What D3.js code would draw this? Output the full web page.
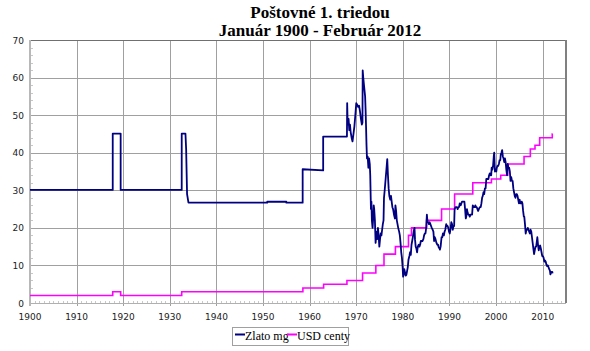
<!DOCTYPE html>
<html><head><meta charset="utf-8">
<script src="https://cdn.jsdelivr.net/npm/d3@7"></script>
<style>body{margin:0;background:#fff;}svg{display:block;}</style>
</head><body><svg id="c" width="590" height="351"></svg>
<script>
const titleLines = ["Poštovné 1. triedou", "Január 1900 - Február 2012"];
const seriesNames = ["Zlato mg", "USD centy"];
const xTicks = [1900,1910,1920,1930,1940,1950,1960,1970,1980,1990,2000,2010];
const yTicks = [0,10,20,30,40,50,60,70];

// USD postage (cents), step changes: [year, value]
const usdYears = [1900,1917.75,1919.45,1932.55,1958.55,1963.0,1968.0,1971.35,1974.2,1975.95,1978.4,1981.2,1981.85,1985.1,1988.3,1991.1,1995.0,1999.0,2001.0,2002.5,2006.0,2007.35,2008.35,2009.35,2012.05];
const usdValues = [2,3,2,3,4,5,6,8,10,13,15,18,20,22,25,29,32,33,34,37,39,41,42,44,45];
const usdEnd = 2012.15;

// Gold (mg) purchasable with the postage
const goldYears = [1900,1917.75,1917.75,1919.45,1919.45,1932.55,1932.55,1933.35,1933.5,1933.7,1934.0,1950.9,1950.9,1955.0,1955.0,1958.5,1958.5,1962.9,1962.9,1968.0,
1968.05,1968.15,1968.25,1968.35,1968.5,1968.65,1968.8,1969.0,1969.2,1969.4,1969.6,1969.8,1970.0,1970.2,1970.4,1970.6,1970.8,1971.0,1971.2,1971.33,
1971.38,1971.5,1971.7,1971.9,1972.0,1972.1,1972.2,1972.3,1972.45,1972.6,1972.75,1972.9,1973.0,1973.15,1973.25,1973.35,1973.5,1973.6,1973.75,1973.85,
1974.0,1974.15,1974.25,1974.4,1974.5,1974.65,1974.8,1974.95,1975.1,1975.25,1975.4,1975.55,1975.7,1975.85,1975.95,1976.1,1976.3,1976.5,1976.65,1976.8,
1976.95,1977.1,1977.3,1977.45,1977.6,1977.75,1977.9,1978.1,1978.3,1978.4,1978.55,1978.7,1978.85,1979.0,1979.2,1979.35,1979.5,1979.65,1979.8,1979.95,
1980.05,1980.15,1980.3,1980.45,1980.6,1980.75,1980.9,1981.05,1981.2,1981.4,1981.55,1981.7,1981.85,1982.0,1982.2,1982.4,1982.5,1982.6,1982.75,1982.9,
1983.05,1983.2,1983.4,1983.55,1983.7,1983.85,1984.0,1984.2,1984.4,1984.55,1984.7,1984.85,1985.0,1985.15,1985.3,1985.45,1985.6,1985.75,1985.9,1986.05,
1986.2,1986.4,1986.55,1986.7,1986.85,1987.0,1987.2,1987.4,1987.55,1987.7,1987.85,1987.95,1988.1,1988.3,1988.45,1988.6,1988.8,1988.95,1989.1,1989.3,
1989.45,1989.6,1989.75,1989.9,1990.05,1990.2,1990.4,1990.55,1990.7,1990.85,1991.0,1991.1,1991.3,1991.45,1991.6,1991.75,1991.9,1992.05,1992.2,1992.4,
1992.55,1992.7,1992.9,1993.05,1993.2,1993.35,1993.5,1993.6,1993.75,1993.9,1994.05,1994.2,1994.35,1994.5,1994.7,1994.85,1995.0,1995.2,1995.4,1995.55,
1995.7,1995.85,1996.0,1996.15,1996.3,1996.5,1996.7,1996.85,1997.0,1997.15,1997.3,1997.45,1997.6,1997.75,1997.9,1998.05,1998.2,1998.35,1998.5,1998.65,
1998.8,1998.95,1999.05,1999.2,1999.35,1999.5,1999.6,1999.75,1999.9,2000.05,2000.15,2000.3,2000.45,2000.6,2000.75,2000.9,2001.0,2001.15,2001.3,2001.45,
2001.6,2001.75,2001.9,2002.05,2002.2,2002.35,2002.5,2002.65,2002.8,2002.95,2003.1,2003.25,2003.4,2003.55,2003.7,2003.85,2004.0,2004.15,2004.3,2004.45,
2004.6,2004.75,2004.9,2005.05,2005.2,2005.35,2005.5,2005.65,2005.8,2005.95,2006.05,2006.2,2006.35,2006.5,2006.65,2006.8,2006.95,2007.1,2007.25,2007.4,
2007.55,2007.7,2007.85,2008.0,2008.15,2008.3,2008.45,2008.6,2008.75,2008.85,2009.0,2009.15,2009.3,2009.45,2009.6,2009.75,2009.9,2010.05,2010.2,2010.35,
2010.5,2010.65,2010.8,2010.95,2011.1,2011.25,2011.4,2011.55,2011.65,2011.8,2011.95,2012.05,2012.12];
const goldValues = [30.1,30.1,45.1,45.1,30.1,30.1,45.1,45.1,41,29,26.7,26.7,26.95,26.95,26.7,26.7,35.6,35.3,44.3,44.3,
53.2,48,47.5,49,46,47.5,45.5,44,43,45,47,50,53.2,52.8,52.2,52.5,51,49,47.5,48,
61.9,60,57.5,55,51.5,47,42,38.5,39,36,38.5,37,34,25,27,22,20,22,26,25,
22,16,17.5,19,17,20,18,15,17,18.5,18,19.5,21,22,28,30,33,36,38.3,34,
30.5,28.5,27.5,28.5,27,25.5,25,23.5,22.5,26,24.5,22,21,20,19,18,16,13.5,12,9.5,
7,7.5,9,8.2,7.3,7.5,8.5,9.5,11.5,12.5,13.5,12.8,15.5,16.5,18,19.5,20,17,15,14.5,
13.5,15,15.5,15,15.5,16.5,16.5,16.5,17,18,18.5,18.5,20,23.5,21.5,21.5,21,21.5,21,20.5,
20,19.5,19,16.5,17.5,17,16,15.5,15.5,14.8,14.5,14.2,15,17.5,17.5,18.5,18,19,19.5,21,
20.5,20.5,20,19,18.5,19.5,21.5,21,19.5,20.5,20.5,25,25.5,25.5,25.5,25,25.5,25.5,26.5,26,
26.5,27,27,27,27,25,22.5,23,25,24,23.5,23.5,23,23.5,23.5,23.5,26,25.5,25.5,26,
25.5,25.5,25,24.5,25,25.5,25.5,26.5,28,28.5,29.5,29,30.5,30.5,33,33,33,33,34,34.5,
34,34,36,35.5,36.5,39,40,35,35.5,35,36,36.5,36.5,37,38,38,39.5,40,40.7,39,
38.5,37.5,38.5,37.5,35.5,34,37,36,36,35,32.5,33.5,32.5,32.5,30.5,29.5,28.5,28,29,29,
28.5,27.5,26.5,27.5,26.5,26.5,27,26.5,24.5,23,23,21,18.5,19.5,19.5,20,19.5,19,18.5,19.5,
19,17.5,16,14.5,13,14,15,15,16.5,17.5,15.5,14,15,15.3,14.5,13.5,12.5,12.5,12,11,
11.3,11,10.2,9.8,10,9.5,9,8.6,7.6,8.2,8.3,8.3,7.9];

const colors = ["#000080", "#ff00ff"];

const W = 590, H = 351;
const m = {l:30, r:24, t:40, b:48};
const svg = d3.select("#c");
const x = d3.scaleLinear().domain([1900, 2015]).range([m.l, W - m.r]);
const y = d3.scaleLinear().domain([0, 70]).range([H - m.b, m.t]);

// title
svg.append("g").selectAll("text").data(titleLines).join("text")
  .attr("x", 320).attr("y", (d,i) => 18 + i*18)
  .attr("text-anchor", "middle")
  .style("font-family", "'Liberation Serif', 'Times New Roman', serif")
  .style("font-size", "17px").style("font-weight", "bold")
  .text(d => d);

// grid
const g = svg.append("g");
g.selectAll("line.vg").data(xTicks.slice(1)).join("line").attr("class","vg")
  .attr("x1", d => Math.round(x(d))+0.5).attr("x2", d => Math.round(x(d))+0.5)
  .attr("y1", y(70)).attr("y2", y(0)+3).attr("stroke", "#a0a0a0");
g.selectAll("line.hg").data(yTicks.slice(1,-1)).join("line").attr("class","hg")
  .attr("y1", d => Math.round(y(d))+0.5).attr("y2", d => Math.round(y(d))+0.5)
  .attr("x1", x(1900)).attr("x2", x(2015)).attr("stroke", "#a0a0a0");

// minor ticks
const minorX = d3.range(1901, 2015, 1).filter(v => v % 10 !== 0);
g.selectAll("line.mx").data(minorX).join("line").attr("class","mx")
  .attr("x1", d => Math.round(x(d))+0.5).attr("x2", d => Math.round(x(d))+0.5)
  .attr("y1", y(0)-2).attr("y2", y(0)).attr("stroke", "#c8c8c8");
const minorY = d3.range(2, 70, 2).filter(v => v % 10 !== 0);
g.selectAll("line.my").data(minorY).join("line").attr("class","my")
  .attr("y1", d => Math.round(y(d))+0.5).attr("y2", d => Math.round(y(d))+0.5)
  .attr("x1", x(1900)).attr("x2", x(1900)+3).attr("stroke", "#c8c8c8");

// frame
g.append("line").attr("x1", x(1900)).attr("x2", x(2015)).attr("y1", Math.round(y(70))+0.5).attr("y2", Math.round(y(70))+0.5).attr("stroke", "#707070");
g.append("line").attr("x1", Math.round(x(2015))).attr("x2", Math.round(x(2015))).attr("y1", y(70)).attr("y2", y(0)).attr("stroke", "#808080").attr("stroke-width", 2);
g.append("line").attr("x1", x(1900)).attr("x2", x(2015)).attr("y1", Math.round(y(0))+0.5).attr("y2", Math.round(y(0))+0.5).attr("stroke", "#b0b0b0");
g.append("line").attr("x1", Math.round(x(1900))).attr("x2", Math.round(x(1900))).attr("y1", y(70)).attr("y2", y(0)+3).attr("stroke", "#b8b8b8").attr("stroke-width", 2);

// axis labels
const lf = "'DejaVu Sans', Verdana, sans-serif";
svg.append("g").selectAll("text").data(xTicks).join("text")
  .attr("x", d => x(d)).attr("y", y(0)+17).attr("text-anchor", "middle")
  .style("font-family", lf).style("font-size", "9px").attr("fill", "#222")
  .text(d => d);
svg.append("g").selectAll("text").data(yTicks).join("text")
  .attr("x", x(1900)-6).attr("y", d => y(d)+3.5).attr("text-anchor", "end")
  .style("font-family", lf).style("font-size", "9px").attr("fill", "#222")
  .text(d => d);

// series
const goldData = goldYears.map((yr,i) => [yr, goldValues[i]]);
const usdData = usdYears.map((yr,i) => [yr, usdValues[i]]).concat([[usdEnd, usdValues[usdValues.length-1]]]);
const line = d3.line().x(d => x(d[0])).y(d => y(d[1]));
const stepLine = d3.line().x(d => x(d[0])).y(d => y(d[1])).curve(d3.curveStepAfter);
svg.append("path").attr("d", stepLine(usdData)).attr("fill","none").attr("stroke", colors[1]).attr("stroke-width", 1.6);
svg.append("path").attr("d", line(goldData)).attr("fill","none").attr("stroke", colors[0]).attr("stroke-width", 1.8).attr("stroke-linejoin","round");

// legend
const lg = svg.append("g");
lg.append("rect").attr("x", 232.5).attr("y", 327.5).attr("width", 116).attr("height", 18).attr("fill", "#fff").attr("stroke", "#a0a0a0");
const items = [{n: seriesNames[0], c: colors[0], x: 235}, {n: seriesNames[1], c: colors[1], x: 287}];
items.forEach(it => {
  lg.append("line").attr("x1", it.x).attr("x2", it.x+10).attr("y1", 334.5).attr("y2", 334.5).attr("stroke", it.c).attr("stroke-width", 2);
  lg.append("text").attr("x", it.x+10).attr("y", 339.5)
    .style("font-family", "'Liberation Serif', 'Times New Roman', serif").style("font-size", "12px").text(it.n);
});
</script></body></html>
